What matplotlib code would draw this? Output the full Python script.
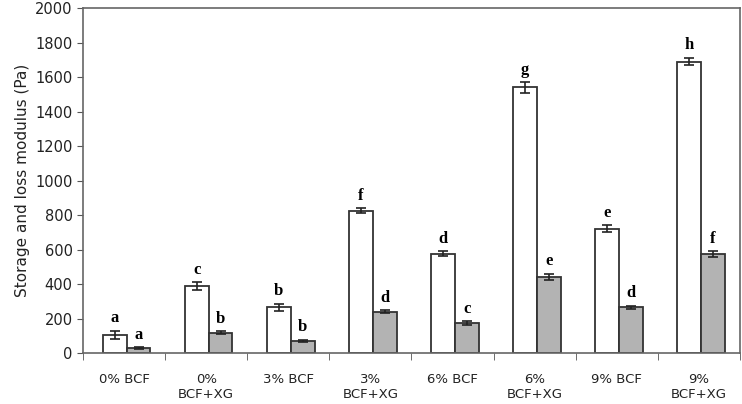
import numpy as np
import matplotlib.pyplot as plt

# data
groups = ['0% BCF', '0%\nBCF+XG', '3% BCF', '3%\nBCF+XG',
          '6% BCF', '6%\nBCF+XG', '9% BCF', '9%\nBCF+XG']
storage = [105, 390, 265, 825, 575, 1540, 720, 1690]
storage_err = [25, 22, 22, 15, 15, 30, 20, 22]
loss = [30, 118, 70, 240, 175, 443, 265, 573]
loss_err = [5, 10, 8, 10, 10, 18, 10, 18]
storage_letters = ['a', 'c', 'b', 'f', 'd', 'g', 'e', 'h']
loss_letters = ['a', 'b', 'b', 'd', 'c', 'e', 'd', 'f']

fig = plt.figure(figsize=(7.42, 4.04), dpi=100)
ax = fig.add_axes([0.112, 0.126, 0.885, 0.854])

x = np.arange(len(groups))
w = 0.29
xs = x + 0.03 - w / 2
xl = x + 0.03 + w / 2
ek = dict(ecolor='#222222', elinewidth=1.2, capsize=3.5, capthick=1.2)
ax.bar(xs, storage, w, yerr=storage_err, color='white', edgecolor='#333333',
       linewidth=1.3, error_kw=ek, zorder=2)
ax.bar(xl, loss, w, yerr=loss_err, color='#b3b3b3', edgecolor='#333333',
       linewidth=1.3, error_kw=ek, zorder=2)

for i in range(len(groups)):
    ax.text(xs[i], storage[i] + storage_err[i] + 25, storage_letters[i],
            ha='center', va='bottom', fontsize=12, fontweight='bold',
            family='Liberation Serif')
    ax.text(xl[i], loss[i] + loss_err[i] + 25, loss_letters[i],
            ha='center', va='bottom', fontsize=12, fontweight='bold',
            family='Liberation Serif')

ax.set_xlim(-0.5, len(groups) - 0.5)
ax.set_ylim(0, 2000)
ax.set_yticks(np.arange(0, 2001, 200))
ax.set_xticks(x)
ax.set_xticklabels(groups, fontsize=9.5, color='#222222', linespacing=1.25)
ax.set_xticks(np.arange(-0.5, len(groups)), minor=True)
ax.tick_params(axis='x', which='major', length=0, pad=14)
ax.tick_params(axis='x', which='minor', length=5, direction='out', color='#555555')
ax.tick_params(axis='y', labelsize=10.5, length=4, color='#555555', labelcolor='#222222')
for s in ax.spines.values():
    s.set_color('#666666')
    s.set_linewidth(1.2)

ax.set_ylabel('Storage and loss modulus (Pa)', fontsize=11, color='#222222')

fig.savefig('out.png', dpi=100)
